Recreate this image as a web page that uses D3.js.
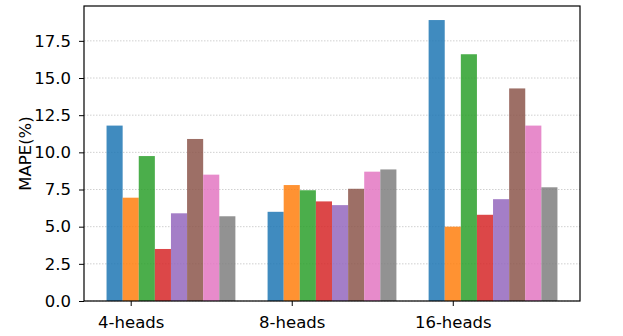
<!DOCTYPE html>
<html>
<head>
<meta charset="utf-8">
<script src="https://cdn.jsdelivr.net/npm/d3@7"></script>
<style>
  body { margin: 0; background: #fff; }
  text { font-family: "DejaVu Sans", sans-serif; }
</style>
</head>
<body>
<script>
// 分组柱状图 —— MAPE
const categories = ['4-heads', '8-heads', '16-heads']
const series = ['s1', 's2', 's3', 's4', 's5', 's6', 's7', 's8']
const colors = ['#1f77b4', '#ff7f0e', '#2ca02c', '#d62728', '#9467bd', '#8c564b', '#e377c2', '#7f7f7f']
// 每个系列在三组中的值
const values = [
  [11.8, 6.0, 18.9],
  [6.95, 7.8, 5.0],
  [9.75, 7.45, 16.6],
  [3.5, 6.7, 5.8],
  [5.9, 6.45, 6.85],
  [10.9, 7.55, 14.3],
  [8.5, 8.7, 11.8],
  [5.7, 8.85, 7.65]
]
const yTicks = [0, 2.5, 5, 7.5, 10, 12.5, 15, 17.5]

const width = 623, height = 336
const margin = {left: 84, right: 43, top: 6, bottom: 35}
const iw = width - margin.left - margin.right
const ih = height - margin.top - margin.bottom
const bw = 0.1
const fs = 16.5

const svg = d3.select('body').append('svg')
  .attr('width', width).attr('height', height)
const g = svg.append('g').attr('transform', `translate(${margin.left},${margin.top})`)

// x 为连续刻度,模拟 matplotlib 的 5% 边距
const xmin = -1.5 * bw, xmax = categories.length - 1 + 6.5 * bw
const pad = (xmax - xmin) * 0.05
const x = d3.scaleLinear().domain([xmin - pad, xmax + pad]).range([0, iw])
const ymax = d3.max(values.flat()) * 1.05
const y = d3.scaleLinear().domain([0, ymax]).range([ih, 0])

// 网格线
g.append('g').selectAll('line').data(yTicks).enter().append('line')
  .attr('x1', 0).attr('x2', iw)
  .attr('y1', d => y(d)).attr('y2', d => y(d))
  .attr('stroke', '#c4c4c4').attr('stroke-width', 0.8)
  .attr('stroke-dasharray', '1.5,1.5')

// 柱子
series.forEach((s, i) => {
  g.append('g').selectAll('rect').data(values[i]).enter().append('rect')
    .attr('x', (d, j) => x(j + (i - 1) * bw - bw / 2))
    .attr('width', x(bw) - x(0))
    .attr('y', d => y(d))
    .attr('height', d => y(0) - y(d))
    .attr('fill', colors[i])
    .attr('fill-opacity', 0.85)
})

// 坐标轴
const yAxis = d3.axisLeft(y).tickValues(yTicks).tickFormat(d3.format('.1f')).tickSize(5).tickPadding(8)
const xAxis = d3.axisBottom(x).tickValues(d3.range(categories.length))
  .tickFormat(i => categories[i]).tickSize(5).tickPadding(10)
const ya = g.append('g').call(yAxis)
const xa = g.append('g').attr('transform', `translate(0,${ih})`).call(xAxis)
;[ya, xa].forEach(a => {
  a.select('.domain').remove()
  a.selectAll('text').attr('font-size', fs).attr('fill', '#000').attr('font-family', 'DejaVu Sans')
  a.selectAll('line').attr('stroke', '#000')
})

// 边框
g.append('rect').attr('width', iw).attr('height', ih)
  .attr('fill', 'none').attr('stroke', '#000').attr('stroke-width', 1.2)

svg.append('text')
  .attr('transform', `translate(31,${margin.top + ih / 2}) rotate(-90)`)
  .attr('text-anchor', 'middle')
  .attr('font-size', fs)
  .text('MAPE(%)')
</script>
</body>
</html>
